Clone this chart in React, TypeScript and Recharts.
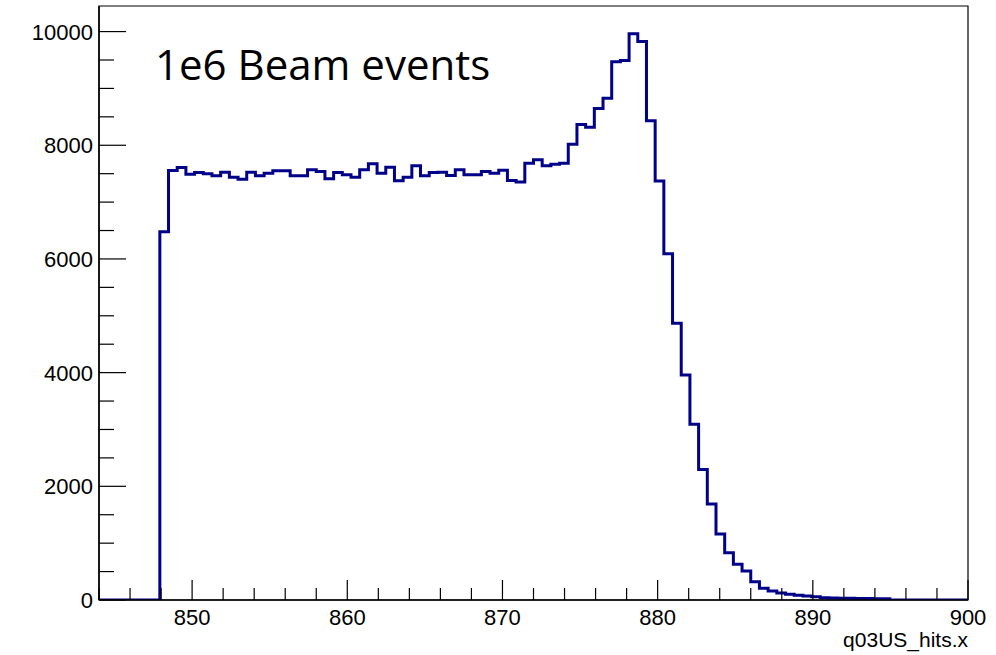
import { LineChart, Line, XAxis, YAxis, ReferenceArea } from "recharts";

// histogram q03US_hits.x : 100 bins, 844 .. 900
const xMin = 844;
const xMax = 900;
const binWidth = 0.56;

const counts = [
  0, 0, 0, 0, 0, 0, 0, 6480, 7556, 7609,
  7492, 7521, 7498, 7462, 7527, 7439, 7404, 7527, 7462, 7509,
  7550, 7550, 7462, 7462, 7568, 7539, 7410, 7521, 7480, 7439,
  7568, 7674, 7509, 7615, 7374, 7439, 7638, 7462, 7521, 7527,
  7468, 7568, 7480, 7480, 7539, 7509, 7560, 7380, 7355, 7685,
  7744, 7638, 7668, 7685, 8020, 8366, 8319, 8647, 8829, 9469,
  9492, 9962, 9827, 8430, 7370, 6090, 4869, 3960, 3090, 2295,
  1687, 1160, 833, 628, 510, 323, 205, 158, 125, 100,
  85, 70, 59, 40, 35, 32, 30, 28, 26, 24,
  22, 0, 0, 0, 0, 0, 0, 0, 0, 0,
];

const xTicks = [
  844, 846, 848, 850, 852, 854, 856, 858, 860, 862, 864, 866, 868, 870,
  872, 874, 876, 878, 880, 882, 884, 886, 888, 890, 892, 894, 896, 898, 900,
];
const yTicks = [
  0, 500, 1000, 1500, 2000, 2500, 3000, 3500, 4000, 4500, 5000,
  5500, 6000, 6500, 7000, 7500, 8000, 8500, 9000, 9500, 10000,
];

const yMax = 10450;

// step points at bin low edges, plus the closing edge
const data = counts.map((c, i) => ({ x: xMin + binWidth * i, y: c }));
data.push({ x: xMax, y: 0 });

const font = "'Liberation Sans', Arial, sans-serif";

const XTick = (props: any) => {
  const { x, y, payload } = props;
  const major = payload.value % 10 === 0;
  return (
    <g>
      <line x1={x} x2={x} y1={y} y2={y - (major ? 20 : 12)} stroke="#000" strokeWidth={1.2} />
      {major && (
        <text x={x} y={y + 25} textAnchor="middle" fontSize={22} fontFamily={font} fill="#000">
          {payload.value}
        </text>
      )}
    </g>
  );
};

const YTick = (props: any) => {
  const { x, y, payload } = props;
  const major = payload.value % 2000 === 0;
  return (
    <g>
      <line x1={x} x2={x + (major ? 27 : 15)} y1={y} y2={y} stroke="#000" strokeWidth={1.2} />
      {major && (
        <text x={x - 6} y={y + 8} textAnchor="end" fontSize={22} fontFamily={font} fill="#000">
          {payload.value}
        </text>
      )}
    </g>
  );
};

export default function App() {
  return (
    <div style={{ position: "absolute", left: 0, top: 0, width: 996, height: 655, background: "#fff" }}>
      <LineChart
        width={996}
        height={655}
        data={data}
        margin={{ top: 6, right: 28, bottom: 25, left: 39 }}
      >
        <XAxis
          type="number"
          dataKey="x"
          domain={[xMin, xMax]}
          ticks={xTicks}
          interval={0}
          allowDataOverflow
          tickSize={0}
          tickMargin={0}
          tickLine={false}
          tick={<XTick />}
          height={30}
          axisLine={{ stroke: "#000", strokeWidth: 1.5 }}
        />
        <YAxis
          type="number"
          domain={[0, yMax]}
          ticks={yTicks}
          interval={0}
          allowDataOverflow
          tickSize={0}
          tickMargin={0}
          tickLine={false}
          tick={<YTick />}
          width={60}
          axisLine={{ stroke: "#000", strokeWidth: 1.5 }}
        />
        <ReferenceArea x1={xMin} x2={xMax} y1={0} y2={yMax} fill="none" stroke="#000" strokeWidth={1.2} />
        <Line
          type="stepAfter"
          dataKey="y"
          stroke="#000088"
          strokeWidth={3}
          dot={false}
          isAnimationActive={false}
        />
      </LineChart>
      <svg width={996} height={655} style={{ position: "absolute", left: 0, top: 0, pointerEvents: "none" }}>
        <text x={155} y={80} fontSize={42} fontFamily="'Open Sans', sans-serif" fill="#000">
          1e6 Beam events
        </text>
        <text x={968} y={647} textAnchor="end" fontSize={21} fontFamily={font} fill="#000">
          q03US_hits.x
        </text>
      </svg>
    </div>
  );
}
